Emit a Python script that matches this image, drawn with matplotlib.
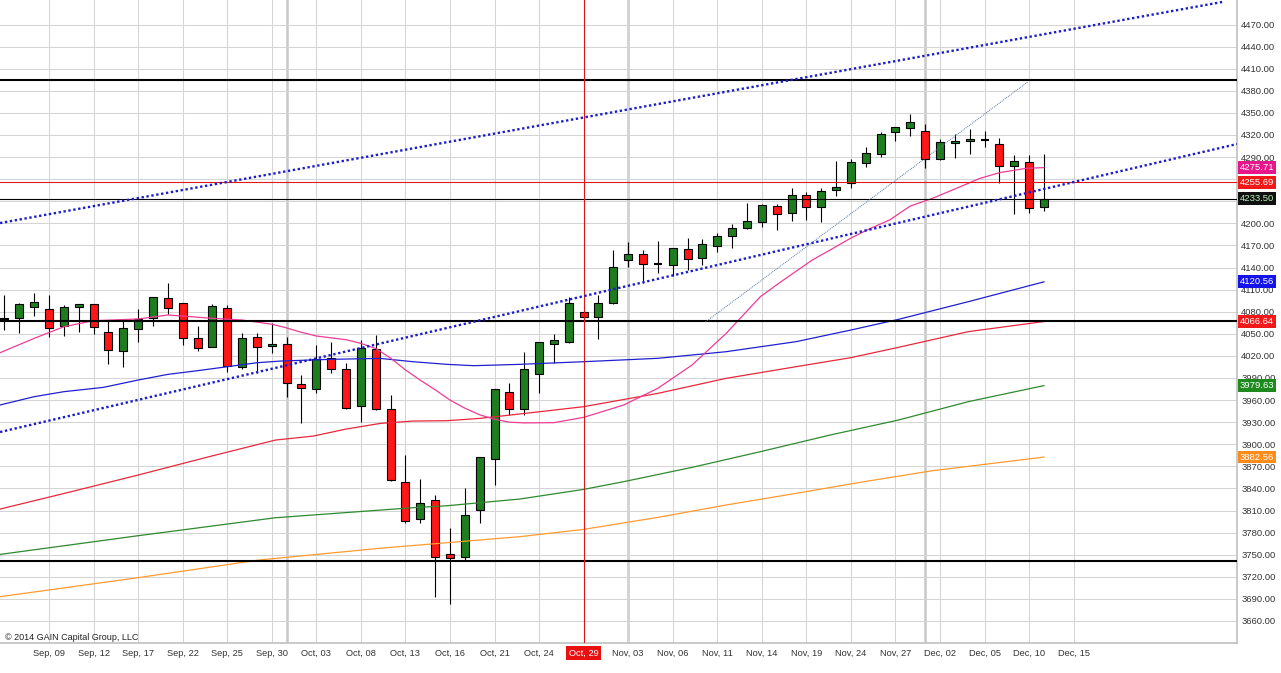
import numpy as np
import pandas as pd
import matplotlib
matplotlib.use("Agg")
import matplotlib.pyplot as plt
import matplotlib.transforms as mtransforms

plt.rcParams['font.family'] = ['Liberation Sans', 'DejaVu Sans']

# daily candles, Sep 04 .. Dec 11 2014 (weekdays)
opens = [4070.5, 4071.9, 4085.9, 4083.2, 4060.5, 4085.9, 4090.0, 4052.0, 4026.1, 4056.0,
         4071.0, 4098.1, 4091.3, 4043.8, 4031.6, 4084.5, 4004.4, 4045.2, 4032.9, 4036.1,
         3981.3, 3974.5, 4017.5, 4001.7, 3952.3, 4029.3, 3947.4, 3848.2, 3798.0, 3823.8,
         3750.4, 3747.3, 3811.1, 3879.5, 3970.4, 3947.4, 3994.9, 4035.6, 4039.3, 4080.0,
         4072.3, 4091.3, 4150.2, 4157.9, 4145.0, 4143.4, 4164.7, 4152.4, 4169.2, 4183.2,
         4193.2, 4202.2, 4223.5, 4213.5, 4238.0, 4222.6, 4245.3, 4255.2, 4281.5, 4293.7,
         4323.6, 4329.0, 4325.9, 4286.9, 4308.6, 4311.4, 4313.2, 4307.3, 4277.9, 4283.8,
         4222.6]
highs = [4102.6, 4091.3, 4105.8, 4102.6, 4089.1, 4090.4, 4090.4, 4067.8, 4067.8, 4083.2,
         4099.5, 4118.5, 4091.3, 4060.5, 4090.4, 4089.1, 4051.5, 4051.5, 4064.2, 4046.1,
         3994.0, 4034.7, 4039.3, 4009.8, 4041.5, 4048.3, 3966.8, 3885.3, 3852.7, 3831.0,
         3785.7, 3840.1, 3882.2, 3974.5, 3983.6, 4024.8, 4038.4, 4049.7, 4099.5, 4081.0,
         4102.6, 4163.8, 4175.1, 4163.8, 4176.0, 4166.0, 4179.6, 4178.2, 4186.4, 4199.1,
         4227.1, 4225.8, 4225.8, 4247.5, 4242.1, 4247.5, 4285.1, 4287.4, 4303.2, 4323.6,
         4331.3, 4348.5, 4334.9, 4314.1, 4320.9, 4327.7, 4325.9, 4316.3, 4292.8, 4292.8,
         4294.2]
lows = [4055.1, 4051.5, 4074.6, 4046.1, 4047.4, 4052.9, 4049.2, 4009.4, 4004.4, 4039.3,
        4060.5, 4076.4, 4034.7, 4027.0, 4031.6, 3998.5, 4001.7, 3996.3, 4024.4, 3964.6,
        3928.3, 3970.0, 3996.2, 3947.8, 3930.6, 3946.4, 3850.5, 3792.5, 3792.5, 3692.0,
        3683.0, 3742.7, 3792.5, 3844.6, 3939.7, 3939.7, 3970.0, 4009.8, 4037.9, 4071.5,
        4042.4, 4090.4, 4141.1, 4119.4, 4133.0, 4128.4, 4136.6, 4143.4, 4161.5, 4166.0,
        4192.3, 4195.4, 4190.9, 4203.1, 4204.5, 4202.2, 4237.1, 4247.5, 4277.0, 4290.5,
        4312.3, 4319.1, 4274.7, 4286.0, 4288.3, 4293.7, 4303.2, 4254.3, 4212.7, 4214.5,
        4217.2]
closes = [4070.5, 4090.4, 4092.7, 4057.4, 4085.9, 4090.0, 4058.7, 4027.5, 4057.4, 4070.1,
          4099.5, 4084.5, 4043.8, 4030.2, 4087.7, 4006.7, 4043.8, 4032.5, 4035.6, 3982.7,
          3975.9, 4015.3, 4001.7, 3948.7, 4030.2, 3947.8, 3851.4, 3796.2, 3819.7, 3746.4,
          3745.9, 3803.4, 3882.2, 3974.5, 3947.4, 4001.7, 4038.4, 4041.1, 4092.2, 4072.3,
          4091.3, 4141.2, 4157.9, 4144.3, 4145.0, 4166.0, 4151.1, 4171.4, 4182.8, 4193.2,
          4203.6, 4224.9, 4212.2, 4238.0, 4221.7, 4244.3, 4248.9, 4282.8, 4295.1, 4321.3,
          4331.3, 4337.2, 4286.9, 4310.0, 4312.3, 4314.1, 4313.2, 4277.9, 4285.1, 4220.4,
          4233.5]

# moving averages at (bar index, value)
ma_pink_x = [-0.3, 2, 4, 6, 9, 11, 12, 14, 16, 18, 19, 20, 21, 23, 24, 25, 26, 27, 28, 29,
             30, 31, 32, 33, 34, 35, 37, 39, 41.7, 44, 46.3, 48.6, 50.9, 52.3, 54.4, 55.6,
             57, 58.3, 59.6, 61, 62.5, 64.1, 65.7, 67, 68.8, 70]
ma_pink_y = [4024.3, 4043.8, 4059.6, 4067.8, 4070.1, 4075.5, 4074.1, 4071.0, 4068.7, 4063.0,
             4058.0, 4052.0, 4047.0, 4042.0, 4037.0, 4030.0, 4017.0, 4001.0, 3987.0, 3974.0,
             3960.0, 3949.0, 3940.0, 3934.0, 3930.0, 3929.0, 3929.3, 3936.5, 3953.3, 3976.0,
             4007.6, 4050.6, 4100.4, 4120.8, 4150.2, 4163.8, 4180.0, 4193.0, 4204.5, 4223.5,
             4234.0, 4247.5, 4261.1, 4268.8, 4274.7, 4275.71]
ma_blue_x = [-0.3, 2, 4, 6.65, 9, 11, 13, 15, 17, 18.6, 21.9, 25.3, 27.5, 29.8, 31.6, 34.7,
             39, 44, 48.6, 53.3, 57, 60.2, 64.9, 70]
ma_blue_y = [3953.3, 3964.6, 3971.4, 3977.2, 3987.2, 3994.9, 3999.9, 4005.3, 4010.7, 4013.0,
             4015.3, 4016.6, 4012.1, 4008.5, 4006.7, 4008.5, 4012.1, 4016.7, 4025.7, 4039.3,
             4055.1, 4069.6, 4093.6, 4120.56]
ma_red_x = [-0.3, 4.3, 9, 13.6, 18.25, 20.8, 23, 25.3, 27.5, 29.8, 32, 34.7, 39, 44, 48.6,
            53.3, 57, 60.2, 64.9, 70]
ma_red_y = [3812.0, 3834.6, 3858.2, 3882.2, 3905.7, 3911.1, 3920.6, 3928.3, 3931.5, 3932.0,
            3935.1, 3941.1, 3951.0, 3969.1, 3989.5, 4005.3, 4017.6, 4031.6, 4052.9, 4066.64]
ma_green_x = [-0.3, 9, 18.25, 25.3, 27.5, 29.8, 34.7, 39, 41.7, 46.3, 50.9, 55.6, 60.2, 64.9, 70]
ma_green_y = [3750.4, 3775.8, 3800.2, 3810.6, 3813.8, 3816.5, 3825.6, 3838.7, 3849.2, 3868.6,
              3889.9, 3912.5, 3932.9, 3957.8, 3979.63]
ma_orange_x = [-0.3, 9, 17.1, 25.2, 34.7, 39, 44, 48.6, 53.3, 57.9, 62.5, 70]
ma_orange_y = [3693.0, 3718.8, 3742.7, 3758.6, 3774.5, 3784.4, 3800.7, 3817.5, 3833.3, 3849.2,
               3864.1, 3882.56]

# drawn objects
levels = [4395.0, 4068.0, 3742.0]
last_close = 4233.50
red_level = 4255.69
channel_top = [(-0.3, 4200.4), (82.0, 4500.6)]
channel_mid = [(-0.3, 3916.6), (83.0, 4307.7)]
thin_trend = [(47.2, 4066.0), (68.9, 4391.9)]
marker_bar = 39  # Oct 29
month_starts = [19, 42, 62]
price_ticks = list(range(3660, 4471, 30))
hidden_ticks = [4230, 4260]  # covered by the value boxes

dates = pd.bdate_range('2014-09-04', periods=74)
tick_idx = list(range(3, 74, 3))
tick_lbl = [dates[i].strftime('%b, %d') for i in tick_idx]

fig = plt.figure(figsize=(12.81, 6.73), dpi=100)
ax = fig.add_axes([0, 30 / 673, 1237 / 1281, 643 / 673])
ax.set_xlim(-0.303, 83.0)
ax.set_ylim(3630.1, 4503.3)

# grid
ax.set_yticks(price_ticks)
ax.set_yticklabels(['' if t in hidden_ticks else '%.2f' % t for t in price_ticks])
ax.set_xticks(tick_idx)
ax.set_xticklabels(tick_lbl)
ax.grid(True, color='#d4d4d4', lw=0.75, zorder=0)
ax.set_axisbelow(True)
for m in month_starts:
    ax.axvline(m, color='#c8c8c8', lw=1.8, zorder=0.5)

# candles
x = np.arange(len(opens))
o = np.array(opens)
c = np.array(closes)
ax.vlines(x, lows, highs, color='black', lw=0.8, zorder=2)
up = c > o
dn = c < o
ax.bar(x[up], (c - o)[up], bottom=o[up], width=0.54, color='#1f7d1f',
       edgecolor='black', lw=0.8, zorder=3)
ax.bar(x[dn], (o - c)[dn], bottom=c[dn], width=0.54, color='#ff1616',
       edgecolor='black', lw=0.8, zorder=3)
doji = c == o
ax.hlines(o[doji], x[doji] - 0.27, x[doji] + 0.27, color='black', lw=1.5, zorder=3)

# moving averages
ax.plot(ma_orange_x, ma_orange_y, color='#ff9a30', lw=0.9, zorder=4)
ax.plot(ma_green_x, ma_green_y, color='#2e8a2e', lw=0.9, zorder=4)
ax.plot(ma_red_x, ma_red_y, color='#e8283c', lw=0.9, zorder=4)
ax.plot(ma_blue_x, ma_blue_y, color='#2020d0', lw=0.9, zorder=4)
ax.plot(ma_pink_x, ma_pink_y, color='#ee3b96', lw=0.9, zorder=4)

# levels and trend lines
for lv in levels:
    ax.axhline(lv, color='black', lw=1.5, zorder=5)
ax.axhline(red_level, color='#e01818', lw=0.8, zorder=5)
ax.axhline(last_close, color='black', lw=0.8, zorder=5)
ax.axvline(marker_bar, color='#d81818', lw=0.8, zorder=5)
for tl in (channel_top, channel_mid):
    ax.plot([p[0] for p in tl], [p[1] for p in tl], color='#1c1cc8', lw=1.7,
            ls=(0, (1, 1.1)), zorder=5)
ax.plot([p[0] for p in thin_trend], [p[1] for p in thin_trend], color='#5874a4',
        lw=0.7, ls=(0, (1, 1)), zorder=5)

# axes look
for s in ('top', 'left'):
    ax.spines[s].set_visible(False)
ax.spines['right'].set_color('#c0c0c0')
ax.spines['bottom'].set_color('#c0c0c0')
ax.spines['right'].set_linewidth(1.2)
ax.spines['bottom'].set_linewidth(1.2)
ax.yaxis.tick_right()
ax.tick_params(axis='y', length=0, pad=3, labelsize=6.8, labelcolor='#333333')
ax.tick_params(axis='x', length=0, pad=4, labelsize=6.7, labelcolor='#333333')
for lab, i in zip(ax.get_xticklabels(), tick_idx):
    if i == marker_bar:
        lab.set_color('white')
        lab.set_bbox(dict(boxstyle='square,pad=0.25', fc='#e81010', ec='none'))

# value boxes on the price scale
trans = mtransforms.blended_transform_factory(ax.transAxes, ax.transData)
boxes = [(4275.71, '#e8168b', 'white'), (4255.69, '#f01818', 'white'),
         (4233.50, '#101010', '#b8f0b8'), (4120.56, '#1414e8', 'white'),
         (4066.64, '#f01818', 'white'), (3979.63, '#1e8a1e', 'white'),
         (3882.56, '#ff8c1a', 'white')]
for val, fc, tc in boxes:
    ax.text(1.0 + 3 / 1237, val, '%.2f' % val, transform=trans, ha='left', va='center',
            fontsize=6.8, color=tc, zorder=10, clip_on=False,
            bbox=dict(boxstyle='square,pad=0.2', fc=fc, ec='none'))

ax.text(8 / 1237, 3637.5, '\u00a9 2014 GAIN Capital Group, LLC', fontsize=6.5,
        color='#222222', ha='left', va='center', zorder=6)

fig.savefig('out.png', dpi=100)
